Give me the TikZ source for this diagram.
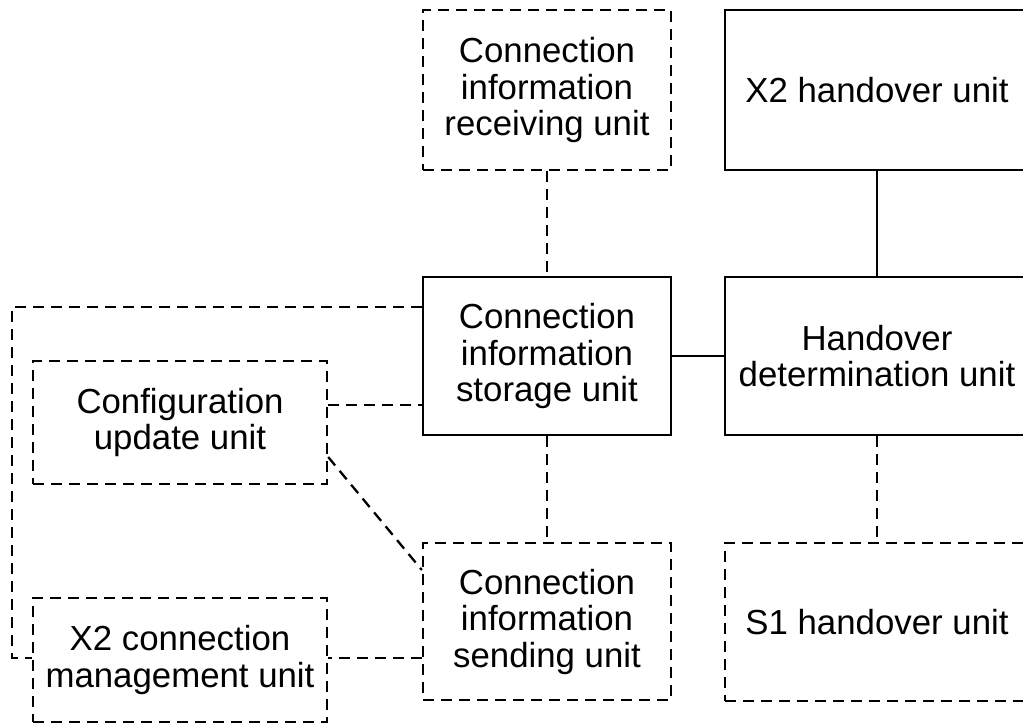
\documentclass[tikz,border=0pt]{standalone}
\usepackage{fontspec}
\setmainfont{Liberation Sans}
\usetikzlibrary{calc}
\begin{document}
\begin{tikzpicture}[x=1pt,y=-1pt,
  unitbox/.style={draw,line width=2.3pt,inner sep=0pt,align=center,
    font=\fontsize{34.8pt}{36.5pt}\selectfont},
  dashedbox/.style={unitbox,dash pattern=on 11pt off 7pt},
  link/.style={line width=2.3pt},
  dlink/.style={line width=2.3pt,dash pattern=on 11pt off 7pt}]
\useasboundingbox (0,0) rectangle (1023,726);
\node[dashedbox,minimum width=248pt,minimum height=160pt] (recv) at (547,90)
  {Connection\\information\\receiving unit};
\node[unitbox,minimum width=304pt,minimum height=160pt] (x2ho) at (877,90)
  {X2 handover unit};
\node[unitbox,minimum width=248pt,minimum height=158pt] (stor) at (547,356)
  {Connection\\information\\storage unit};
\node[unitbox,minimum width=304pt,minimum height=158pt] (hod) at (877,356)
  {Handover\\determination unit};
\node[dashedbox,minimum width=294pt,minimum height=123pt] (conf) at (180,422.5)
  {Configuration\\update unit};
\node[dashedbox,minimum width=248pt,minimum height=157pt] (send) at (547,621.5)
  {Connection\\information\\sending unit};
\node[dashedbox,minimum width=304pt,minimum height=158pt] (s1) at (877,622)
  {S1 handover unit};
\node[dashedbox,minimum width=294pt,minimum height=124pt] (x2cm) at (180,660)
  {X2 connection\\management unit};
\coordinate (lb) at (12,658);
\draw[dlink] (recv.south) -- (stor.north);
\draw[link] (x2ho.south) -- (hod.north);
\draw[link] (stor.east) -- (hod.west);
\draw[dlink] (stor.south) -- (send.north);
\draw[dlink] (hod.south) -- (s1.north);
\draw[dlink] ([yshift=17.5pt]conf.east) -- ([yshift=17.5pt]conf.east -| stor.west);
\draw[dlink] ([yshift=-34.5pt]conf.east) -- ([yshift=51.5pt]send.west);
\draw[dlink] ([yshift=-36.5pt]send.west) -- ([yshift=-36.5pt]send.west -| x2cm.east);
\draw[dlink] ([yshift=49pt]stor.west) -| (lb) -- (lb -| x2cm.west);
\end{tikzpicture}
\end{document}
